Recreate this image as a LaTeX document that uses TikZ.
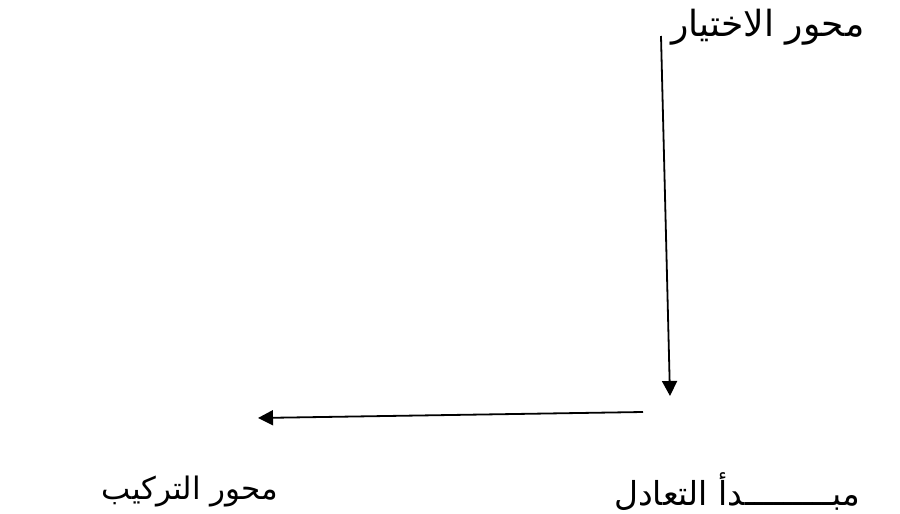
\documentclass[tikz,border=0pt]{standalone}
\usepackage{fontspec}
\usetikzlibrary{arrows.meta}
\TeXXeTstate=1
\newfontfamily\arabicfont[Script=Arabic]{DejaVu Sans}
\begin{document}
\begin{tikzpicture}[x=1pt,y=-1pt,
  lbl/.style={inner sep=0pt, font=\arabicfont\fontsize{33}{38}\selectfont},
  axis/.style={line width=1.8pt, -{Triangle[length=15pt,width=15pt]}}]
\useasboundingbox (0,0) rectangle (900,514);
\node[lbl, font=\arabicfont\fontsize{36}{40}\selectfont] (sel) at (768,27) {\beginR محور الاختيار\endR};
\node[lbl] (eq) at (737,492) {\beginR مبـــــــــدأ التعادل\endR};
\node[lbl, font=\arabicfont\fontsize{31}{36}\selectfont] (syn) at (190,492) {\beginR محور التركيب\endR};
\coordinate (vs) at (661,36);
\coordinate (ve) at (670,396);
\coordinate (hs) at (643,412);
\coordinate (he) at (258,418);
\draw[axis] (vs) -- (ve);
\draw[axis] (hs) -- (he);
\end{tikzpicture}
\end{document}
